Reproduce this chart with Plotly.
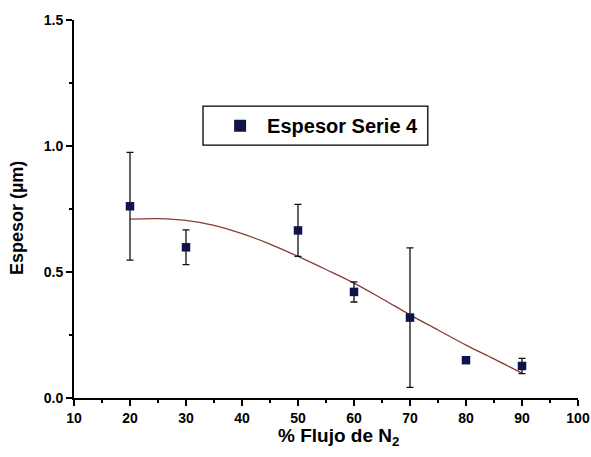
import plotly.graph_objects as go

# Data
flujo = [20, 30, 50, 60, 70, 80, 90]
espesor = [0.761, 0.598, 0.665, 0.421, 0.319, 0.150, 0.127]
error = [0.214, 0.069, 0.103, 0.040, 0.277, 0.008, 0.030]

fit_x = [20, 25, 30, 35, 40, 45, 50, 55, 60, 65, 70, 75, 80, 85, 90]
fit_y = [0.710, 0.712, 0.705, 0.685, 0.652, 0.611, 0.562, 0.510, 0.456, 0.394, 0.330, 0.270, 0.210, 0.155, 0.098]

x_ticks = [10, 20, 30, 40, 50, 60, 70, 80, 90, 100]
y_ticks = [0.0, 0.5, 1.0, 1.5]

FONT = "Liberation Sans, Arial, sans-serif"

fig = go.Figure()
fig.add_trace(go.Scatter(
    x=fit_x, y=fit_y, mode="lines", line=dict(color="#8a3b36", width=1.3, shape="spline"),
    showlegend=False, hoverinfo="skip"))
fig.add_trace(go.Scatter(
    x=flujo, y=espesor, mode="markers", name="Espesor Serie 4",
    marker=dict(symbol="square", size=8.5, color="#10124a"),
    error_y=dict(type="data", array=error, visible=True, color="#111111", thickness=1.3, width=3.5)))

fig.update_layout(
    width=591, height=457,
    margin=dict(l=74, r=13, t=20, b=59, autoexpand=False),
    paper_bgcolor="white", plot_bgcolor="white",
    font=dict(family=FONT, color="black"),
    legend=dict(x=0.276, y=0.7205, xanchor="left", yanchor="middle",
                borderwidth=0, bgcolor="rgba(0,0,0,0)", itemwidth=44,
                font=dict(family=FONT, size=20, color="black", weight="bold"),
                itemsizing="constant"),
    shapes=[dict(type="rect", xref="paper", yref="paper", x0=0.256, x1=0.702, y0=0.669, y1=0.772,
                 line=dict(color="black", width=1.3), fillcolor="white", layer="below")],
    annotations=[
        dict(text="% Flujo de N<sub>2</sub>", xref="paper", yref="paper", x=0.524, y=-0.103,
             xanchor="center", yanchor="middle", showarrow=False,
             font=dict(family=FONT, size=19, color="black", weight="bold")),
        dict(text="Espesor (µm)", xref="paper", yref="paper", x=-0.113, y=0.476, textangle=-90,
             xanchor="center", yanchor="middle", showarrow=False,
             font=dict(family=FONT, size=18, color="black", weight="bold")),
    ],
)
fig.update_xaxes(
    range=[10, 100], tickvals=x_ticks, ticktext=[str(v) for v in x_ticks], automargin=False,
    showgrid=False, zeroline=False, showline=True, linecolor="black", linewidth=2,
    ticks="outside", ticklen=6, tickwidth=2, tickcolor="black",
    minor=dict(ticks="outside", dtick=5, ticklen=3, tickwidth=2, tickcolor="black"),
    tickfont=dict(family=FONT, size=14, color="black", weight="bold"),
)
fig.update_yaxes(
    range=[0, 1.5], tickvals=y_ticks, ticktext=["0.0", "0.5", "1.0", "1.5"], automargin=False,
    showgrid=False, zeroline=False, showline=True, linecolor="black", linewidth=2,
    ticks="outside", ticklen=6, tickwidth=2, tickcolor="black",
    minor=dict(ticks="outside", dtick=0.25, ticklen=3, tickwidth=2, tickcolor="black"),
    tickfont=dict(family=FONT, size=14, color="black", weight="bold"),
)

fig.write_html("out.html")
